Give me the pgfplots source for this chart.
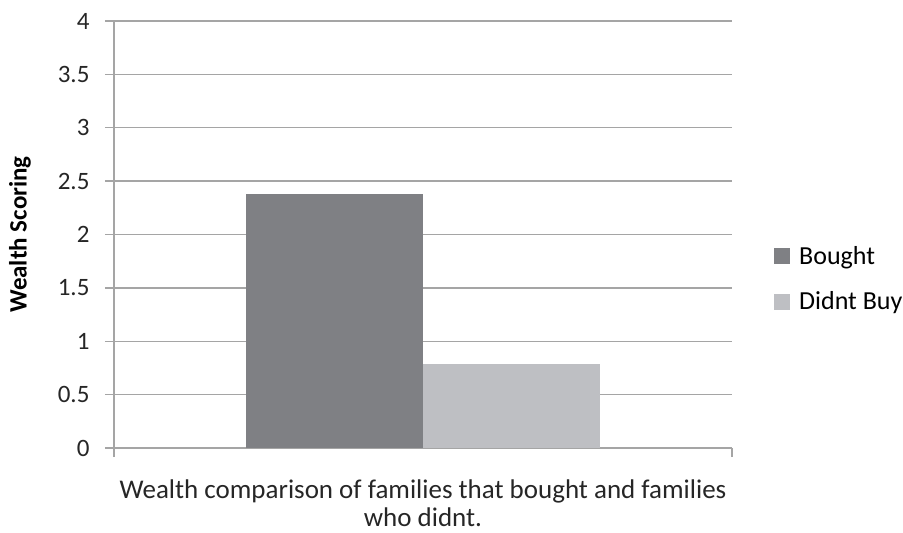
\documentclass[border=0pt]{standalone}
\usepackage{fontspec}
\setmainfont{Carlito}
\usepackage{pgfplots}
\pgfplotsset{compat=1.18}
\definecolor{darkbar}{RGB}{127,128,132}
\definecolor{lightbar}{RGB}{190,191,195}
\definecolor{gridc}{RGB}{165,165,165}
\begin{document}
\begin{tikzpicture}[x=1pt,y=1pt]
\useasboundingbox (-114,-85) rectangle (789,448);
\begin{axis}[
  at={(0,0)}, anchor=south west,
  scale only axis, width=618pt, height=427pt,
  xmin=-1, xmax=1, ymin=0, ymax=4,
  axis x line*=bottom, axis y line*=left,
  axis line style={gridc, line width=1.3pt},
  ytick={0,0.5,...,4},
  xtick={-1,1}, xticklabels={},
  tick align=outside, major tick length=9pt,
  tick style={gridc, line width=1.3pt},
  ymajorgrids, grid style={gridc, line width=1.3pt},
  /pgf/number format/assume math mode=true,
  yticklabel style={font=\fontsize{25}{28}\selectfont, color=black!85, xshift=-12pt},
  ylabel={\bfseries Wealth Scoring},
  ylabel style={font=\fontsize{25}{28}\selectfont, at={(axis description cs:-0.152,0.5)}, anchor=center},
  xlabel={Wealth comparison of families that bought and families\\who didnt.},
  xlabel style={font=\fontsize{27}{28}\selectfont, align=center, at={(axis description cs:0.5,0)}, anchor=north, yshift=-28pt, color=black!85},
  ybar, bar shift=0pt, bar width=0.5728,
  legend style={draw=none, fill=none, at={(axis description cs:1.068,0.396)}, anchor=west,
    font=\fontsize{26}{28}\selectfont, row sep=22pt, inner sep=0pt,
    legend cell align=left, /tikz/every odd column/.append style={column sep=7pt}},
  legend image code/.code={\fill[#1] (0pt,-8pt) rectangle (16pt,8pt);},
]
\addplot[fill=darkbar, draw=none] coordinates {(-0.2864,2.38)};
\addlegendentry{Bought}
\addplot[fill=lightbar, draw=none] coordinates {(0.2864,0.79)};
\addlegendentry{Didnt Buy}
\end{axis}
\end{tikzpicture}
\end{document}
